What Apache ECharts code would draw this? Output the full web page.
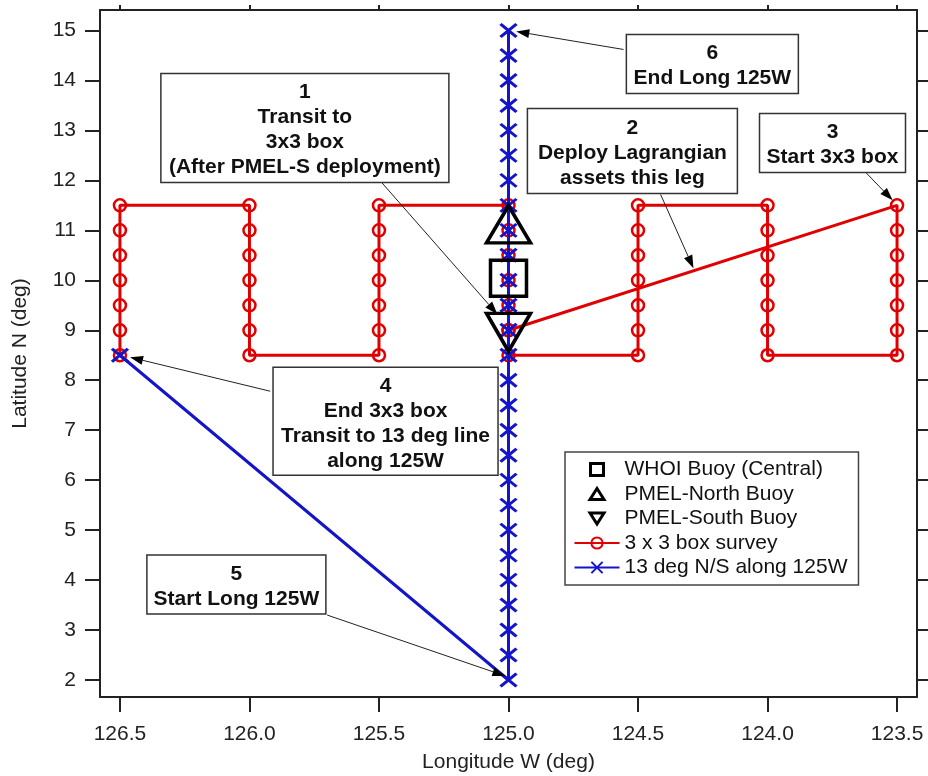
<!DOCTYPE html>
<html><head><meta charset="utf-8">
<script src="https://cdn.jsdelivr.net/npm/echarts@6/dist/echarts.min.js"></script>
<style>html,body{margin:0;padding:0;background:#fff}#c{width:928px;height:776px}</style>
</head><body><div id="c"></div>
<script>
// ---- data ----
const xTicks = [126.5, 126.0, 125.5, 125.0, 124.5, 124.0, 123.5];
const yTicks = [2, 3, 4, 5, 6, 7, 8, 9, 10, 11, 12, 13, 14, 15];

const whoiBuoy = [[125.0, 10.0]];
const pmelNorthBuoy = [[125.0, 11.0]];
const pmelSouthBuoy = [[125.0, 9.0]];

const boxSurvey = [
  [125.0, 9.0],
  [123.5, 11.5], [123.5, 11.0], [123.5, 10.5], [123.5, 10.0], [123.5, 9.5], [123.5, 9.0], [123.5, 8.5],
  [124.0, 8.5], [124.0, 9.0], [124.0, 9.5], [124.0, 10.0], [124.0, 10.5], [124.0, 11.0], [124.0, 11.5],
  [124.5, 11.5], [124.5, 11.0], [124.5, 10.5], [124.5, 10.0], [124.5, 9.5], [124.5, 9.0], [124.5, 8.5],
  [125.0, 8.5], [125.0, 9.0], [125.0, 9.5], [125.0, 10.0], [125.0, 10.5], [125.0, 11.0], [125.0, 11.5],
  [125.5, 11.5], [125.5, 11.0], [125.5, 10.5], [125.5, 10.0], [125.5, 9.5], [125.5, 9.0], [125.5, 8.5],
  [126.0, 8.5], [126.0, 9.0], [126.0, 9.5], [126.0, 10.0], [126.0, 10.5], [126.0, 11.0], [126.0, 11.5],
  [126.5, 11.5], [126.5, 11.0], [126.5, 10.5], [126.5, 10.0], [126.5, 9.5], [126.5, 9.0], [126.5, 8.5]
];

const longLine = [
  [126.5, 8.5],
  [125.0, 2.0], [125.0, 2.5], [125.0, 3.0], [125.0, 3.5], [125.0, 4.0], [125.0, 4.5], [125.0, 5.0],
  [125.0, 5.5], [125.0, 6.0], [125.0, 6.5], [125.0, 7.0], [125.0, 7.5], [125.0, 8.0], [125.0, 8.5],
  [125.0, 9.0], [125.0, 9.5], [125.0, 10.0], [125.0, 10.5], [125.0, 11.0], [125.0, 11.5], [125.0, 12.0],
  [125.0, 12.5], [125.0, 13.0], [125.0, 13.5], [125.0, 14.0], [125.0, 14.5], [125.0, 15.0]
];

const seriesNames = ['WHOI Buoy (Central)', 'PMEL-North Buoy', 'PMEL-South Buoy', '3 x 3 box survey', '13 deg N/S along 125W'];

// annotation boxes: text lines, top-left anchor (lon, lat), arrow start & tip (lon, lat)
const annotations = [
  { lines: ['1', 'Transit to', '3x3 box', '(After PMEL-S deployment)'], anchor: [126.342, 14.14], w: 288, h: 109, from: [125.490, 11.96], to: [125.043, 9.32] },
  { lines: ['6', 'End Long 125W'], anchor: [124.545, 14.92], w: 172, h: 59, from: [124.556, 14.62], to: [124.970, 14.98] },
  { lines: ['2', 'Deploy Lagrangian', 'assets this leg'], anchor: [124.927, 13.44], w: 210, h: 85, from: [124.413, 11.72], to: [124.286, 10.24] },
  { lines: ['3', 'Start 3x3 box'], anchor: [124.031, 13.34], w: 146, h: 59, from: [123.621, 12.16], to: [123.517, 11.6] },
  { lines: ['4', 'End 3x3 box', 'Transit to 13 deg line', 'along 125W'], anchor: [125.909, 8.26], w: 225, h: 108, from: [125.920, 7.78], to: [126.461, 8.46] },
  { lines: ['5', 'Start Long 125W'], anchor: [126.396, 4.5], w: 179, h: 59, from: [125.700, 3.3], to: [125.012, 2.08] }
];

// ---- styling ----
const FONT = "'Liberation Sans', Arial, Helvetica, sans-serif";
const RED = '#e00000';
const BLUE = '#1414c8';
const AX = '#222';
const X_MIN = 123.423, X_MAX = 126.577, Y_MIN = 1.66, Y_MAX = 15.41;

// legend icons padded to the full 45x14 legend icon box so they are not stretched
const LEG_SQUARE = 'path://M0,0M45,14M16,1L29,1L29,13L16,13Z';
const LEG_UP = 'path://M0,0M45,14M15.5,12.5L29.5,12.5L22.5,1.5Z';
const LEG_DOWN = 'path://M0,0M45,14M15.5,1.5L29.5,1.5L22.5,12.5Z';
const legendBuoyStyle = { color: 'rgba(0,0,0,0)', borderColor: '#000', borderWidth: 3, opacity: 1 };

const chart = echarts.init(document.getElementById('c'), null, { renderer: 'canvas' });

function xAxisDef(pos, withLabels) {
  return {
    type: 'value', position: pos, min: X_MIN, max: X_MAX, inverse: true,
    axisLine: { show: true, onZero: false, lineStyle: { color: AX, width: 2 } },
    axisTick: { show: true, length: withLabels ? 15 : 5, lineStyle: { color: AX, width: 2 }, customValues: xTicks },
    axisLabel: withLabels ? { show: true, customValues: xTicks, formatter: v => Number(v).toFixed(1), fontSize: 21, color: AX, fontFamily: FONT, margin: 27 } : { show: false },
    splitLine: { show: false },
    name: withLabels ? 'Longitude W (deg)' : '', nameLocation: 'middle', nameGap: 55,
    nameTextStyle: { fontSize: 21, color: AX, fontFamily: FONT }
  };
}
function yAxisDef(pos, withLabels) {
  return {
    type: 'value', position: pos, min: Y_MIN, max: Y_MAX,
    axisLine: { show: true, onZero: false, lineStyle: { color: AX, width: 2 } },
    axisTick: { show: true, length: withLabels ? 15 : 12, lineStyle: { color: AX, width: 2 }, customValues: yTicks },
    axisLabel: withLabels ? { show: true, customValues: yTicks, formatter: v => String(Math.round(v)), fontSize: 21, color: AX, fontFamily: FONT, margin: 24 } : { show: false },
    splitLine: { show: false },
    name: withLabels ? 'Latitude N (deg)' : '', nameLocation: 'middle', nameGap: 69,
    nameTextStyle: { fontSize: 21, color: AX, fontFamily: FONT }
  };
}

const hollowBlack = { color: 'rgba(0,0,0,0)', borderColor: '#000', borderWidth: 3.5, opacity: 1 };

chart.setOption({
  animation: false,
  backgroundColor: '#fff',
  grid: { left: 100, right: 11, top: 10, bottom: 79, containLabel: false, outerBoundsMode: 'none' },
  xAxis: [xAxisDef('bottom', true), xAxisDef('top', false)],
  yAxis: [yAxisDef('left', true), yAxisDef('right', false)],
  legend: {
    orient: 'vertical', left: 565, top: 452, padding: [7, 11, 7, 8],
    backgroundColor: '#fff', borderColor: '#444', borderWidth: 1.5, borderRadius: 0,
    itemWidth: 45, itemHeight: 14, itemGap: 3.5, selectedMode: false,
    textStyle: { fontSize: 21, color: '#111', fontFamily: FONT },
    data: [
      { name: seriesNames[0], icon: LEG_SQUARE, itemStyle: legendBuoyStyle },
      { name: seriesNames[1], icon: LEG_UP, itemStyle: legendBuoyStyle },
      { name: seriesNames[2], icon: LEG_DOWN, itemStyle: legendBuoyStyle },
      { name: seriesNames[3] },
      { name: seriesNames[4] }
    ]
  },
  series: [
    { name: seriesNames[3], type: 'line', data: boxSurvey, z: 2, silent: true, showAllSymbol: true,
      symbol: 'circle', symbolSize: 12, itemStyle: { color: 'rgba(0,0,0,0)', borderColor: RED, borderWidth: 2.5 },
      lineStyle: { color: RED, width: 3 } },
    { name: seriesNames[4], type: 'line', data: longLine, z: 3, silent: true, showAllSymbol: true,
      symbol: 'path://M0,0L10,10M10,0L0,10', symbolSize: [16, 13], itemStyle: { color: BLUE, borderColor: BLUE, borderWidth: 3 },
      lineStyle: { color: BLUE, width: 3 } },
    { name: seriesNames[0], type: 'scatter', data: whoiBuoy, z: 5, silent: true,
      symbol: 'rect', symbolSize: 36, symbolOffset: [0, -2], itemStyle: hollowBlack },
    { name: seriesNames[1], type: 'scatter', data: pmelNorthBuoy, z: 5, silent: true,
      symbol: 'triangle', symbolSize: [44, 37], symbolOffset: [0, -6], itemStyle: hollowBlack },
    { name: seriesNames[2], type: 'scatter', data: pmelSouthBuoy, z: 5, silent: true,
      symbol: 'path://M0,0L10,0L5,8.66Z', symbolSize: [44, 38], symbolOffset: [0, 2], itemStyle: hollowBlack }
  ]
});

// ---- annotations (boxes + arrows) positioned through the axes ----
function px(p) { return chart.convertToPixel({ xAxisIndex: 0, yAxisIndex: 0 }, p); }
const g = [];
annotations.forEach(a => {
  const tl = px(a.anchor);
  const s = px(a.from), t = px(a.to);
  const dx = t[0] - s[0], dy = t[1] - s[1];
  const L = Math.sqrt(dx * dx + dy * dy), ux = dx / L, uy = dy / L;
  const hl = 13, hw = 4.5;
  const bx = t[0] - ux * hl, by = t[1] - uy * hl;
  g.push({ type: 'line', z: 50, silent: true, shape: { x1: s[0], y1: s[1], x2: bx, y2: by }, style: { stroke: '#222', lineWidth: 1 } });
  g.push({ type: 'polygon', z: 50, silent: true, shape: { points: [[t[0], t[1]], [bx - uy * hw, by + ux * hw], [bx + uy * hw, by - ux * hw]] }, style: { fill: '#000' } });
  g.push({ type: 'rect', z: 60, silent: true, shape: { x: tl[0], y: tl[1], width: a.w, height: a.h }, style: { fill: '#fff', stroke: '#333', lineWidth: 1.5 } });
  g.push({ type: 'text', z: 61, silent: true, x: tl[0] + a.w / 2, y: tl[1] + a.h / 2 + 2,
    style: { text: a.lines.join('\n'), fontSize: 21, fontWeight: 'bold', fontFamily: FONT, fill: '#111', align: 'center', verticalAlign: 'middle', lineHeight: 25 } });
});
chart.setOption({ graphic: g });
</script>
</body></html>
